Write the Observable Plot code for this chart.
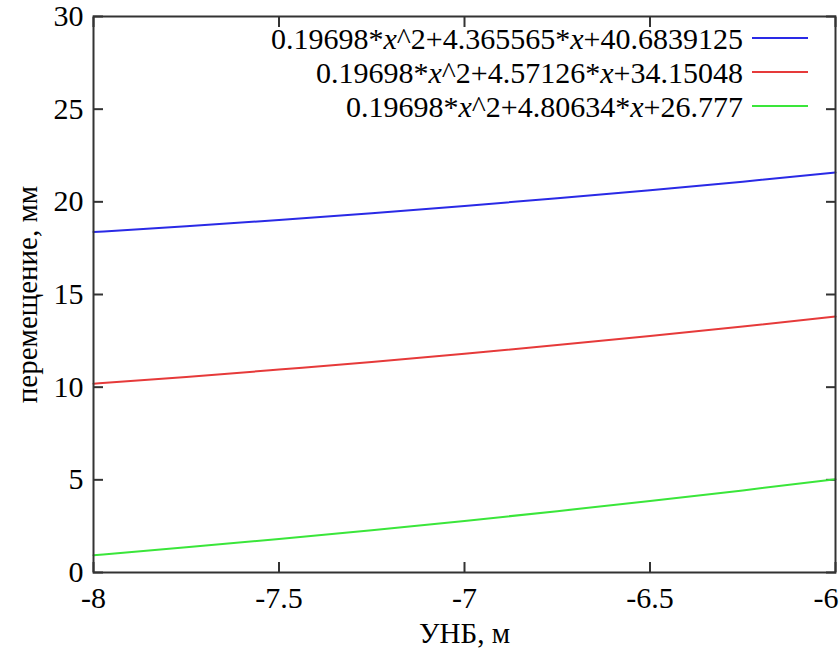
<!DOCTYPE html>
<html>
<head>
<meta charset="utf-8">
<script src="https://cdn.jsdelivr.net/npm/d3@7"></script>
<script src="https://cdn.jsdelivr.net/npm/@observablehq/plot@0.6"></script>
<style>
  body { margin: 0; background: #fff; }
  #wrap { position: relative; width: 840px; height: 650px; font-family: "Liberation Serif", "Times New Roman", serif; }
  #legend { position: absolute; left: 0; top: 0; width: 840px; height: 650px; pointer-events: none; }
  .row { position: absolute; right: 97px; font-size: 30px; line-height: 27px; height: 27px; white-space: nowrap; color: #000; }
  .sw { position: absolute; width: 56px; height: 2px; }
</style>
</head>
<body>
<div id="wrap"></div>
<script>
// x positions (УНБ, м)
const xs = [-8, -7.75, -7.5, -7.25, -7, -6.75, -6.5, -6.25, -6];
// series values (перемещение, мм)
const blueY  = [18.37, 18.68, 19.02, 19.39, 19.78, 20.19, 20.63, 21.09, 21.58];
const redY   = [10.19, 10.55, 10.95, 11.36, 11.80, 12.27, 12.76, 13.27, 13.81];
const greenY = [0.93, 1.36, 1.81, 2.28, 2.78, 3.31, 3.86, 4.43, 5.03];
const seriesNames = [
  "0.19698*<i>x</i>^2+4.365565*<i>x</i>+40.6839125",
  "0.19698*<i>x</i>^2+4.57126*<i>x</i>+34.15048",
  "0.19698*<i>x</i>^2+4.80634*<i>x</i>+26.777"
];
const seriesColors = ["#2a2ae6", "#e63a3a", "#3ae63a"];
const xTicks = [-8, -7.5, -7, -6.5, -6];
const yTicks = [0, 5, 10, 15, 20, 25, 30];

const allY = [blueY, redY, greenY];
const data = [];
allY.forEach((ys, s) => xs.forEach((x, i) => data.push({x, y: ys[i], s})));

const font = "Liberation Serif";
const tickFont = 30;
const chart = Plot.plot({
  width: 840,
  height: 650,
  marginLeft: 93,
  marginRight: 5,
  marginTop: 16,
  marginBottom: 78,
  style: { fontFamily: font, background: "#fff", color: "#000" },
  x: { domain: [-8, -6] },
  y: { domain: [0, 30] },
  marks: [
    Plot.axisX({ticks: xTicks.slice(0, -1), tickSize: 0, tickPadding: 14, fontSize: tickFont, tickFormat: d => String(d),
                label: "УНБ, м", labelAnchor: "center", labelOffset: 70, labelArrow: "none"}),
    Plot.axisX({ticks: xTicks.slice(-1), tickSize: 0, tickPadding: 14, fontSize: tickFont, tickFormat: d => String(d),
                textAnchor: "end", dx: 3, label: null}),
    Plot.axisX({ticks: xTicks, tickSize: -10, text: null, label: null, stroke: "#333", strokeWidth: 2}),
    Plot.axisX({anchor: "top", ticks: xTicks, tickSize: -10, text: null, label: null, stroke: "#333", strokeWidth: 2}),
    Plot.axisY({ticks: yTicks, tickSize: 0, tickPadding: 10, fontSize: tickFont, tickFormat: d => String(d),
                label: "перемещение, мм", labelAnchor: "center", labelOffset: 77, labelArrow: "none"}),
    Plot.axisY({ticks: yTicks, tickSize: -10, text: null, label: null, stroke: "#333", strokeWidth: 2}),
    Plot.axisY({anchor: "right", ticks: yTicks, tickSize: -10, text: null, label: null, stroke: "#333", strokeWidth: 2}),
    Plot.line(data, {x: "x", y: "y", z: "s", stroke: d => seriesColors[d.s], strokeWidth: 2, curve: "natural"}),
    Plot.frame({stroke: "#333", strokeWidth: 2})
  ]
});
const wrap = document.getElementById("wrap");
wrap.appendChild(chart);
chart.querySelectorAll("text").forEach(t => t.style.fontFamily = font);
const axisLabelSize = "29px";
chart.querySelectorAll("[aria-label$='axis label'] text").forEach(t => t.style.fontSize = axisLabelSize);

const legend = document.createElement("div");
legend.id = "legend";
const rowCenters = [38, 72, 106];
seriesNames.forEach((name, i) => {
  const r = document.createElement("div");
  r.className = "row";
  r.innerHTML = name;
  r.style.top = (rowCenters[i] - 13) + "px";
  legend.appendChild(r);
  const sw = document.createElement("div");
  sw.className = "sw";
  sw.style.left = "752px";
  sw.style.top = (rowCenters[i] - 1) + "px";
  sw.style.background = seriesColors[i];
  legend.appendChild(sw);
});
wrap.appendChild(legend);
</script>
</body>
</html>
